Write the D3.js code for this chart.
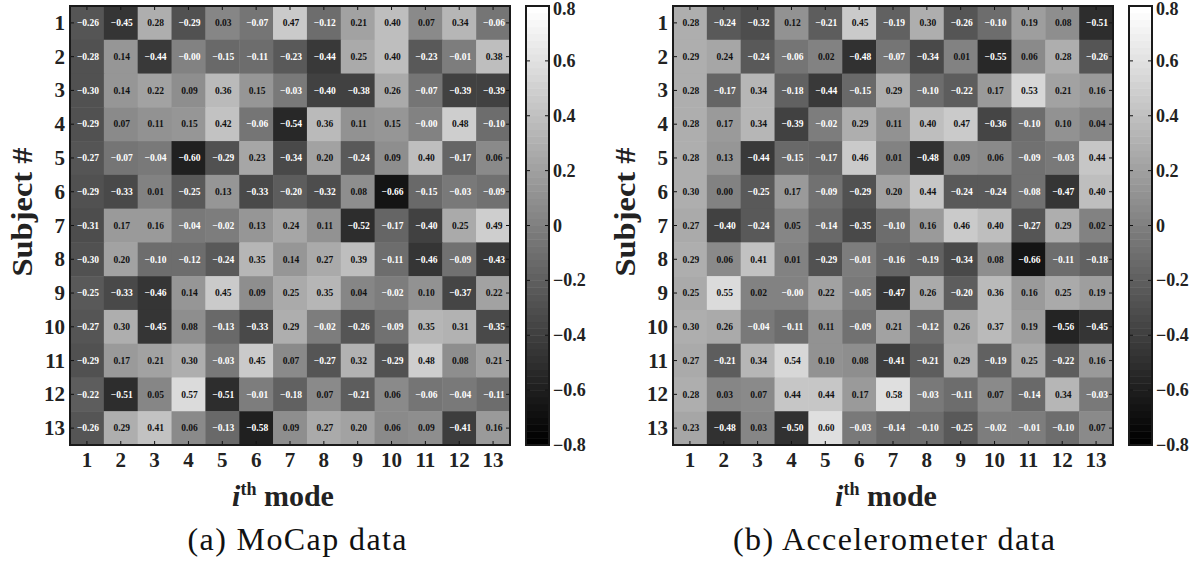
<!DOCTYPE html>
<html><head><meta charset="utf-8">
<script src="https://cdn.jsdelivr.net/npm/d3@7"></script>
<style>
html,body{margin:0;padding:0;background:#fff;}
svg{display:block;}
</style></head>
<body>
<svg id="chart" width="1203" height="565"></svg>
<script>
// ---------------- data ----------------
const modes = [1,2,3,4,5,6,7,8,9,10,11,12,13];
const subjects = [1,2,3,4,5,6,7,8,9,10,11,12,13];
const colorbarTicks = [0.8,0.6,0.4,0.2,0,-0.2,-0.4,-0.6,-0.8];

const mocapValues = [
  [-0.26,-0.45,0.28,-0.29,0.03,-0.07,0.47,-0.12,0.21,0.40,0.07,0.34,-0.06],
  [-0.28,0.14,-0.44,-0.00,-0.15,-0.11,-0.23,-0.44,0.25,0.40,-0.23,-0.01,0.38],
  [-0.30,0.14,0.22,0.09,0.36,0.15,-0.03,-0.40,-0.38,0.26,-0.07,-0.39,-0.39],
  [-0.29,0.07,0.11,0.15,0.42,-0.06,-0.54,0.36,0.11,0.15,-0.00,0.48,-0.10],
  [-0.27,-0.07,-0.04,-0.60,-0.29,0.23,-0.34,0.20,-0.24,0.09,0.40,-0.17,0.06],
  [-0.29,-0.33,0.01,-0.25,0.13,-0.33,-0.20,-0.32,0.08,-0.66,-0.15,-0.03,-0.09],
  [-0.31,0.17,0.16,-0.04,-0.02,0.13,0.24,0.11,-0.52,-0.17,-0.40,0.25,0.49],
  [-0.30,0.20,-0.10,-0.12,-0.24,0.35,0.14,0.27,0.39,-0.11,-0.46,-0.09,-0.43],
  [-0.25,-0.33,-0.46,0.14,0.45,0.09,0.25,0.35,0.04,-0.02,0.10,-0.37,0.22],
  [-0.27,0.30,-0.45,0.08,-0.13,-0.33,0.29,-0.02,-0.26,-0.09,0.35,0.31,-0.35],
  [-0.29,0.17,0.21,0.30,-0.03,0.45,0.07,-0.27,0.32,-0.29,0.48,0.08,0.21],
  [-0.22,-0.51,0.05,0.57,-0.51,-0.01,-0.18,0.07,-0.21,0.06,-0.06,-0.04,-0.11],
  [-0.26,0.29,0.41,0.06,-0.13,-0.58,0.09,0.27,0.20,0.06,0.09,-0.41,0.16]
];

const accelValues = [
  [0.28,-0.24,-0.32,0.12,-0.21,0.45,-0.19,0.30,-0.26,-0.10,0.19,0.08,-0.51],
  [0.29,0.24,-0.24,-0.06,0.02,-0.48,-0.07,-0.34,0.01,-0.55,0.06,0.28,-0.26],
  [0.28,-0.17,0.34,-0.18,-0.44,-0.15,0.29,-0.10,-0.22,0.17,0.53,0.21,0.16],
  [0.28,0.17,0.34,-0.39,-0.02,0.29,0.11,0.40,0.47,-0.36,-0.10,0.10,0.04],
  [0.28,0.13,-0.44,-0.15,-0.17,0.46,0.01,-0.48,0.09,0.06,-0.09,-0.03,0.44],
  [0.30,0.00,-0.25,0.17,-0.09,-0.29,0.20,0.44,-0.24,-0.24,-0.08,-0.47,0.40],
  [0.27,-0.40,-0.24,0.05,-0.14,-0.35,-0.10,0.16,0.46,0.40,-0.27,0.29,0.02],
  [0.29,0.06,0.41,0.01,-0.29,-0.01,-0.16,-0.19,-0.34,0.08,-0.66,-0.11,-0.18],
  [0.25,0.55,0.02,-0.00,0.22,-0.05,-0.47,0.26,-0.20,0.36,0.16,0.25,0.19],
  [0.30,0.26,-0.04,-0.11,0.11,-0.09,0.21,-0.12,0.26,0.37,0.19,-0.56,-0.45],
  [0.27,-0.21,0.34,0.54,0.10,0.08,-0.41,-0.21,0.29,-0.19,0.25,-0.22,0.16],
  [0.28,0.03,0.07,0.44,0.44,0.17,0.58,-0.03,-0.11,0.07,-0.14,0.34,-0.03],
  [0.23,-0.48,0.03,-0.50,0.60,-0.03,-0.14,-0.10,-0.25,-0.02,-0.01,-0.10,0.07]
];

const panelCaptions = ["(a) MoCap data", "(b) Accelerometer data"];

// ---------------- font detection ----------------
function pickFont(cands){
  const c = document.createElement("canvas").getContext("2d");
  const probe = "abcdefghijklmMWQ0123456789";
  for (const bases of ["monospace","sans-serif"]) {}
  for (const f of cands){
    let ok = true;
    for (const base of ["monospace","sans-serif"]) {
      c.font = `40px ${base}`; const w0 = c.measureText(probe).width;
      c.font = `40px "${f}", ${base}`; const w1 = c.measureText(probe).width;
      if (Math.abs(w0 - w1) < 0.5) { ok = false; break; }
    }
    if (ok) return `"${f}", serif`;
  }
  return "serif";
}
const serifFont = pickFont(["Liberation Serif","Tinos","Times New Roman","Times","DejaVu Serif","Noto Serif","FreeSerif","Nimbus Roman","Nimbus Roman No9 L"]);

// ---------------- drawing ----------------
const svg = d3.select("#chart").style("font-family", serifFont);
const colorDomain = [-0.8, 0.8];
const nLevels = 64;
const grays = d3.range(nLevels).map(i => { const g = Math.round(i/(nLevels-1)*255); return d3.rgb(g,g,g).formatHex(); });
const color = d3.scaleQuantize().domain(colorDomain).range(grays);

function isNeg(v){ return v < 0 || Object.is(v, -0); }
function fmt(v){ return (isNeg(v) ? "\u2212" : "") + Math.abs(v).toFixed(2); }

const panels = [
  {values: mocapValues, x0: 70, cbX: 526, caption: panelCaptions[0], capX: 297, capW: 219, modeX: 283, subjX: 22},
  {values: accelValues, x0: 673, cbX: 1129, caption: panelCaptions[1], capX: 894, capW: 322, modeX: 886, subjX: 625}
];
const plotTop = 6, H = 439, W = 440, cbW = 23;

panels.forEach(p => {
  const g = svg.append("g").attr("font-family", serifFont);
  const x = d3.scaleBand().domain(modes).range([p.x0, p.x0 + W]);
  const y = d3.scaleBand().domain(subjects).range([plotTop, plotTop + H]);

  const cells = [];
  p.values.forEach((row, i) => row.forEach((v, j) => cells.push({s: subjects[i], m: modes[j], v})));

  g.selectAll("rect.cell").data(cells).join("rect")
    .attr("class","cell")
    .attr("x", d => x(d.m)).attr("y", d => y(d.s))
    .attr("width", x.bandwidth() + 0.5).attr("height", y.bandwidth() + 0.5)
    .attr("fill", d => color(d.v));

  g.selectAll("text.val").data(cells).join("text")
    .attr("class","val")
    .attr("x", d => x(d.m) + x.bandwidth()/2 + 1)
    .attr("y", d => y(d.s) + y.bandwidth()/2 + 3.3)
    .attr("text-anchor","middle")
    .attr("font-size", 9.5).attr("font-weight","bold")
    .attr("fill", d => isNeg(d.v) ? "#fff" : "#111")
    .text(d => fmt(d.v));

  // ticks on all four sides
  const tl = 4;
  modes.forEach(m => {
    const cx = x(m) + x.bandwidth()/2;
    g.append("line").attr("x1",cx).attr("x2",cx).attr("y1",plotTop).attr("y2",plotTop+tl).attr("stroke","#111").attr("stroke-width",1);
    g.append("line").attr("x1",cx).attr("x2",cx).attr("y1",plotTop+H).attr("y2",plotTop+H-tl).attr("stroke","#111").attr("stroke-width",1);
  });
  subjects.forEach(s => {
    const cy = y(s) + y.bandwidth()/2;
    g.append("line").attr("x1",p.x0).attr("x2",p.x0+tl).attr("y1",cy).attr("y2",cy).attr("stroke","#111").attr("stroke-width",1);
    g.append("line").attr("x1",p.x0+W).attr("x2",p.x0+W-tl).attr("y1",cy).attr("y2",cy).attr("stroke","#111").attr("stroke-width",1);
  });

  g.append("rect").attr("x",p.x0).attr("y",plotTop).attr("width",W).attr("height",H)
    .attr("fill","none").attr("stroke","#1a1a1a").attr("stroke-width",2);

  // tick labels
  g.selectAll("text.xt").data(modes).join("text").attr("class","xt")
    .attr("x", m => x(m) + x.bandwidth()/2).attr("y", 467)
    .attr("text-anchor","middle").attr("font-size",21).attr("font-weight","bold").attr("fill","#222")
    .text(m => m);
  g.selectAll("text.yt").data(subjects).join("text").attr("class","yt")
    .attr("x", p.x0 - 5).attr("y", s => y(s) + y.bandwidth()/2 + 7)
    .attr("text-anchor","end").attr("font-size",21).attr("font-weight","bold").attr("fill","#222")
    .text(s => s);

  // axis titles
  g.append("text").attr("transform",`translate(${p.subjX + 10},${212}) rotate(-90)`)
    .attr("text-anchor","middle").attr("font-size",30).attr("font-weight","bold").attr("fill","#222")
    .attr("textLength",129).attr("lengthAdjust","spacingAndGlyphs")
    .text("Subject #");

  const mt = g.append("text").attr("x", p.modeX).attr("y", 506)
    .attr("text-anchor","middle").attr("font-size",30).attr("font-weight","bold").attr("fill","#222");
  mt.append("tspan").attr("font-style","italic").text("i");
  mt.append("tspan").attr("font-size",18).attr("dy",-11).text("th");
  mt.append("tspan").attr("dy",11).text(" mode");

  // caption
  g.append("text").attr("x", p.capX).attr("y", 550).attr("text-anchor","middle")
    .attr("font-size",32).attr("fill","#111")
    .attr("textLength",p.capW).attr("lengthAdjust","spacing")
    .text(p.caption);

  // colorbar
  const cy = d3.scaleLinear().domain(colorDomain).range([plotTop + H, plotTop]);
  const step = (colorDomain[1]-colorDomain[0])/nLevels;
  g.selectAll("rect.cb").data(grays).join("rect").attr("class","cb")
    .attr("x", p.cbX).attr("width", cbW)
    .attr("y", (c,i) => cy(colorDomain[0] + (i+1)*step))
    .attr("height", (c,i) => cy(colorDomain[0] + i*step) - cy(colorDomain[0] + (i+1)*step) + 0.5)
    .attr("fill", c => c);
  colorbarTicks.forEach(t => {
    const yy = cy(t);
    g.append("line").attr("x1",p.cbX).attr("x2",p.cbX+4).attr("y1",yy).attr("y2",yy).attr("stroke","#111");
    g.append("line").attr("x1",p.cbX+cbW).attr("x2",p.cbX+cbW-4).attr("y1",yy).attr("y2",yy).attr("stroke","#111");
  });
  g.append("rect").attr("x",p.cbX).attr("y",plotTop).attr("width",cbW).attr("height",H)
    .attr("fill","none").attr("stroke","#1a1a1a").attr("stroke-width",2);
  g.selectAll("text.cbt").data(colorbarTicks).join("text").attr("class","cbt")
    .attr("x", p.cbX + cbW + 4).attr("y", t => cy(t) + (t === colorbarTicks[0] ? 9 : 6))
    .attr("font-size",18).attr("font-weight","bold").attr("fill","#222")
    .text(t => t === 0 ? "0" : (t < 0 ? "\u2212" : "") + Math.abs(t).toFixed(1));
});
</script>
</body></html>
